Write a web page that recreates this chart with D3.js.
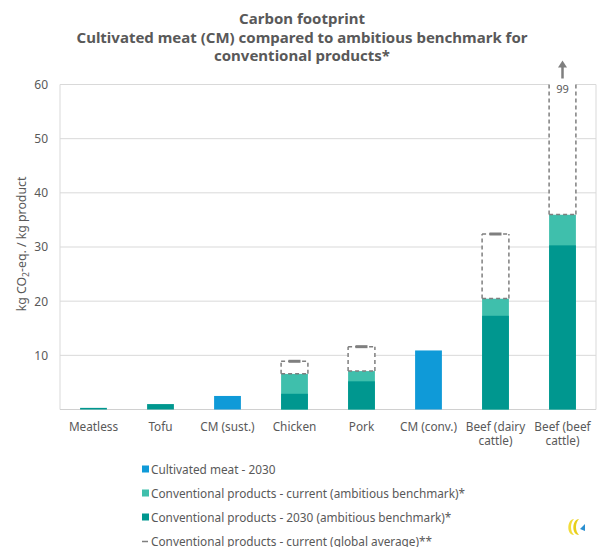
<!DOCTYPE html>
<html>
<head>
<meta charset="utf-8">
<script src="https://cdn.jsdelivr.net/npm/d3@7"></script>
<style>
  html, body { margin: 0; padding: 0; background: #fff; }
  svg { display: block; font-family: "Noto Sans", "Open Sans", sans-serif; }
</style>
</head>
<body>
<svg id="chart" width="599" height="547"></svg>
<script>
// ---- data ----
const categories = ["Meatless", "Tofu", "CM (sust.)", "Chicken", "Pork", "CM (conv.)", "Beef (dairy cattle)", "Beef (beef cattle)"];
const cultivatedMeat2030 = [0, 0, 2.5, 0, 0, 10.9, 0, 0];
const conventional2030 = [0.3, 1.0, 0, 2.9, 5.2, 0, 17.3, 30.3];
const conventionalCurrent = [null, null, null, 6.6, 7.1, null, 20.5, 36.0];
const globalAverage = [null, null, null, 8.9, 11.6, null, 32.4, 99];
const yTicks = [10, 20, 30, 40, 50, 60];
const legendLabels = [
  "Cultivated meat - 2030",
  "Conventional products - current (ambitious benchmark)*",
  "Conventional products - 2030 (ambitious benchmark)*",
  "Conventional products - current (global average)**"
];
const titleLines = ["Carbon footprint", "Cultivated meat (CM) compared to ambitious benchmark for", "conventional products*"];

// ---- styles ----
const colBlue = "#0f9ad8", colLight = "#3fbfac", colDark = "#00978f", colGray = "#7f7f7f", txt = "#595959";

const svg = d3.select("#chart");
const pLeft = 60, pRight = 596, pTop = 84.5, pBottom = 409.5;

const x = d3.scaleBand().domain(categories).range([pLeft, pRight]).paddingInner(0.6).paddingOuter(0.3);
const y = d3.scaleLinear().domain([0, 60]).range([pBottom, pTop]);

// title
svg.append("g").selectAll("text").data(titleLines).join("text")
  .attr("x", 302).attr("y", (d, i) => 24 + i * 18.5)
  .attr("text-anchor", "middle").attr("font-size", 15).attr("font-weight", "bold")
  .attr("fill", txt).text(d => d);

// grid
svg.append("g").selectAll("line").data(yTicks).join("line")
  .attr("x1", pLeft).attr("x2", pRight).attr("y1", d => y(d)).attr("y2", d => y(d))
  .attr("stroke", "#d9d9d9").attr("stroke-width", 1);
svg.append("line").attr("x1", pLeft).attr("x2", pLeft).attr("y1", pTop).attr("y2", pBottom).attr("stroke", "#d9d9d9");
svg.append("line").attr("x1", pRight).attr("x2", pRight).attr("y1", pTop).attr("y2", pBottom).attr("stroke", "#d9d9d9");
svg.append("line").attr("x1", pLeft).attr("x2", pRight).attr("y1", pBottom).attr("y2", pBottom).attr("stroke", "#d0d0d0");

// y axis labels
const yAxis = d3.axisLeft(y).tickValues(yTicks).tickSize(0).tickPadding(12);
const gy = svg.append("g").attr("transform", `translate(${pLeft},0)`).call(yAxis);
gy.select(".domain").remove();
gy.selectAll("text").attr("font-size", 12).attr("fill", txt).attr("font-family", "Noto Sans, sans-serif");

// y title
svg.append("text").attr("transform", `translate(26,244) rotate(-90)`)
  .attr("text-anchor", "middle").attr("font-size", 12.3).attr("fill", txt)
  .call(t => {
    t.append("tspan").text("kg CO");
    t.append("tspan").attr("font-size", 8.5).attr("dy", 3).text("2");
    t.append("tspan").attr("dy", -3).text("-eq. / kg product");
  });

// x labels
const xl = svg.append("g");
categories.forEach((c, i) => {
  const cx = x(c) + x.bandwidth() / 2;
  let lines = [c];
  const m = c.match(/^(Beef \(\w+) (cattle\))$/);
  if (m) lines = [m[1], m[2]];
  lines.forEach((ln, j) => {
    xl.append("text").attr("x", cx).attr("y", pBottom + 21 + j * 14.5)
      .attr("text-anchor", "middle").attr("font-size", 11.8).attr("fill", txt).text(ln);
  });
});

const bw = x.bandwidth();
const bars = svg.append("g");
const idx = c => categories.indexOf(c);
// conventional current (light)
bars.selectAll(".cur").data(categories.filter((c, i) => conventionalCurrent[i] != null)).join("rect")
  .attr("x", c => x(c)).attr("width", bw)
  .attr("y", c => y(conventionalCurrent[idx(c)]))
  .attr("height", c => pBottom - y(conventionalCurrent[idx(c)]))
  .attr("fill", colLight);
// conventional 2030 (dark)
bars.selectAll(".c30").data(categories.filter((c, i) => conventional2030[i] > 0)).join("rect")
  .attr("x", c => x(c)).attr("width", bw)
  .attr("y", c => y(conventional2030[idx(c)]))
  .attr("height", c => pBottom - y(conventional2030[idx(c)]))
  .attr("fill", colDark);
// cultivated meat
bars.selectAll(".cm").data(categories.filter((c, i) => cultivatedMeat2030[i] > 0)).join("rect")
  .attr("x", c => x(c)).attr("width", bw)
  .attr("y", c => y(cultivatedMeat2030[idx(c)]))
  .attr("height", c => pBottom - y(cultivatedMeat2030[idx(c)]))
  .attr("fill", colBlue);

// global average dashed boxes
const boxes = svg.append("g");
categories.forEach((c, i) => {
  const g = globalAverage[i];
  if (g == null) return;
  const base = y(conventionalCurrent[i]);
  const clipped = g > 60;
  const topY = clipped ? y(60) - 2 : y(g);
  const x0 = x(c), x1 = x(c) + bw;
  boxes.append("rect").attr("x", x0).attr("y", topY).attr("width", bw).attr("height", base - topY)
    .attr("fill", "#fff");
  const dash = "4,3";
  const st = sel => sel.attr("stroke", colGray).attr("stroke-width", 1.5).attr("stroke-dasharray", dash).attr("fill", "none");
  boxes.append("line").attr("x1", x0).attr("x2", x1).attr("y1", base).attr("y2", base).call(st);
  boxes.append("line").attr("x1", x0).attr("x2", x0).attr("y1", base).attr("y2", topY).call(st);
  boxes.append("line").attr("x1", x1).attr("x2", x1).attr("y1", base).attr("y2", topY).call(st);
  const cx = x0 + bw / 2;
  if (!clipped) {
    boxes.append("line").attr("x1", x0).attr("x2", x1).attr("y1", topY).attr("y2", topY).call(st);
    boxes.append("line").attr("x1", cx - 6).attr("x2", cx + 6).attr("y1", topY).attr("y2", topY)
      .attr("stroke", colGray).attr("stroke-width", 3);
  } else {
    boxes.append("text").attr("x", cx).attr("y", y(60) + 8).attr("text-anchor", "middle")
      .attr("font-size", 11).attr("fill", txt).text(String(g));
    boxes.append("line").attr("x1", cx).attr("x2", cx).attr("y1", y(60) - 6).attr("y2", y(60) - 18)
      .attr("stroke", colGray).attr("stroke-width", 2.5);
    boxes.append("path").attr("d", `M${cx - 4.5},${y(60) - 17} L${cx},${y(60) - 24} L${cx + 4.5},${y(60) - 17} Z`)
      .attr("fill", colGray);
  }
});

// legend
const legendColors = [colBlue, colLight, colDark, null];
const lg = svg.append("g");
legendLabels.forEach((l, i) => {
  const ly = 469.5 + i * 24;
  if (legendColors[i]) {
    lg.append("rect").attr("x", 142).attr("y", ly - 4).attr("width", 7).attr("height", 7).attr("fill", legendColors[i]);
  } else {
    lg.append("line").attr("x1", 142).attr("x2", 148).attr("y1", ly).attr("y2", ly).attr("stroke", colGray).attr("stroke-width", 1.5);
  }
  lg.append("text").attr("x", 151).attr("y", ly + 4).attr("font-size", 11.8).attr("fill", txt).text(l);
});

// small logo
const logo = svg.append("g").attr("transform", "translate(576,527)");
logo.append("path").attr("d", "M-2,-8 C-9,-8 -10,8 -2,8 C-6,4 -6,-4 -2,-8 Z").attr("fill", "#f2dc3a");
logo.append("path").attr("d", "M3,-8 C-4,-8 -5,8 3,8 C-1,4 -1,-4 3,-8 Z").attr("fill", "#e8cf1a");
logo.append("path").attr("d", "M4,2 L9,-3 L9,4 Z").attr("fill", "#2a8fd0");
</script>
</body>
</html>
